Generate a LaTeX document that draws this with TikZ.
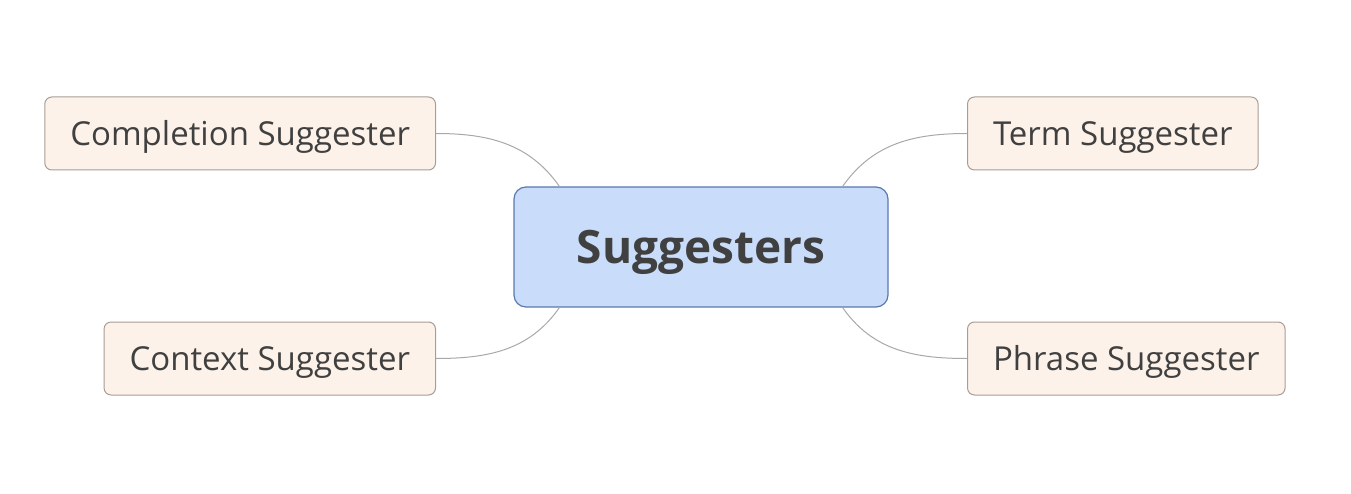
\documentclass[tikz,border=0pt]{standalone}
\usepackage{fontspec}
\setmainfont{Open Sans}
\definecolor{txtgray}{HTML}{404040}
\definecolor{rootfill}{HTML}{C9DDFB}
\definecolor{rootline}{HTML}{5B79AE}
\definecolor{leaffill}{HTML}{FDF2E9}
\definecolor{leafline}{HTML}{A89C94}
\definecolor{linkgray}{HTML}{A8A8A8}
\tikzset{
  rootbox/.style={draw=rootline,fill=rootfill,rounded corners=12pt,line width=1.2pt,
    minimum width=374pt,minimum height=120pt,text height=33pt,text depth=0pt,
    text=txtgray,font=\fontsize{46}{54}\selectfont\bfseries},
  leafbox/.style={draw=leafline,fill=leaffill,rounded corners=7pt,line width=1pt,
    inner xsep=25.5pt,minimum height=73pt,text height=23.5pt,text depth=0pt,
    text=txtgray,font=\fontsize{33}{38}\selectfont},
  link/.style={draw=linkgray,line width=1pt}
}
\begin{document}
\begin{tikzpicture}[x=1pt,y=-1pt]
\useasboundingbox (0,0) rectangle (1351,494);
\node[rootbox] (root) at (701,247) {Suggesters};
\node[leafbox,anchor=east] (compl) at (436,133.5) {Completion Suggester};
\node[leafbox,anchor=east] (context) at (436,358.5) {Context Suggester};
\node[leafbox,anchor=west] (term) at (967,133.5) {Term Suggester};
\node[leafbox,anchor=west] (phrase) at (967,358.5) {Phrase Suggester};
% branches
\draw[link] (compl.east) to[out=0,in=125] ([xshift=46pt]root.north west);
\draw[link] (context.east) to[out=0,in=235] ([xshift=46pt]root.south west);
\draw[link] (term.west) to[out=180,in=55] ([xshift=-46pt]root.north east);
\draw[link] (phrase.west) to[out=180,in=305] ([xshift=-46pt]root.south east);
\end{tikzpicture}
\end{document}
